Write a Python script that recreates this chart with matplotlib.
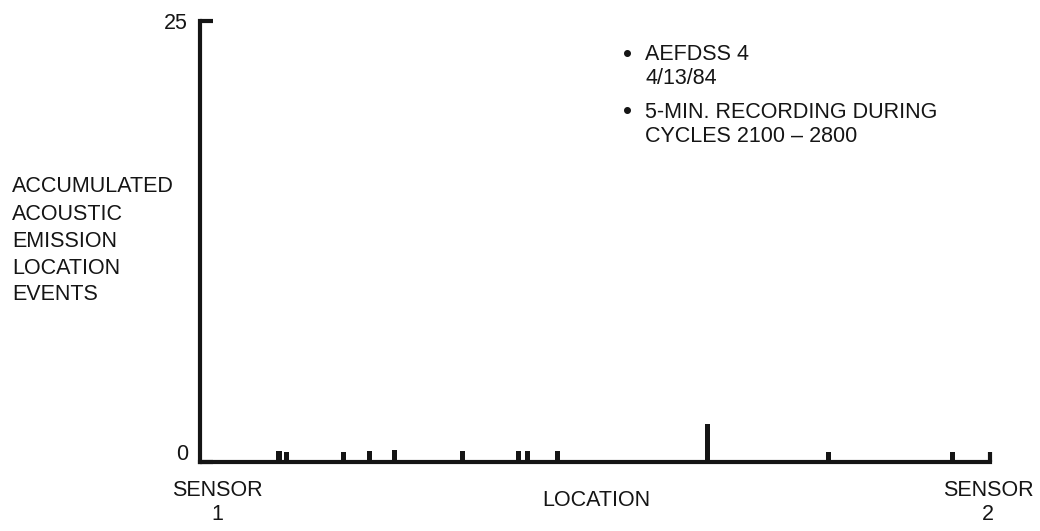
import matplotlib.pyplot as plt
from matplotlib.transforms import ScaledTranslation

# Location of each event cluster, percent of distance from sensor 1 to sensor 2
location = [10.0, 11.0, 18.2, 21.5, 24.6, 33.2, 40.3, 41.5, 45.3, 64.2, 79.6, 95.3]
# Accumulated events at each location
events = [0.6, 0.55, 0.55, 0.6, 0.7, 0.6, 0.6, 0.6, 0.6, 2.15, 0.55, 0.55]

y_ticks = [0, 25]
y_label_lines = ["ACCUMULATED", "ACOUSTIC", "EMISSION", "LOCATION", "EVENTS"]
note_lines = ["AEFDSS 4", "4/13/84", "5-MIN. RECORDING DURING", "CYCLES 2100 \u2013 2800"]
note_bullets = [True, False, True, False]

plt.rcParams['font.family'] = ['Liberation Sans', 'DejaVu Sans']
ink = '#151515'
fs = 15.5
W, H = 1040, 531

fig = plt.figure(figsize=(W / 100, H / 100), dpi=100)
ax = fig.add_axes([200 / W, 1 - 462 / H, 790 / W, 441 / H])

def px(x, y):
  # pixel position (from top-left) to figure fraction
  return x / W, 1 - y / H

# Event bars
ax.bar(location, events, width=0.65, color=ink, align='center')

ax.set_xlim(0, 100)
ax.set_ylim(0, 25)

# Axes look: only left and bottom, thick
for side in ['top', 'right']:
  ax.spines[side].set_visible(False)
for side in ['left', 'bottom']:
  ax.spines[side].set_linewidth(3)
  ax.spines[side].set_color(ink)
  ax.spines[side].set_capstyle('projecting')

ax.set_yticks(y_ticks)
ax.set_yticklabels([str(t) for t in y_ticks], fontsize=fs, color=ink)
ax.tick_params(axis='y', direction='in', length=9.5, width=3, pad=8.5, colors=ink)
# "0" sits a little above the baseline
lab0 = ax.get_yticklabels()[0]
lab0.set_transform(lab0.get_transform() + ScaledTranslation(0, 0.1, fig.dpi_scale_trans))

ax.set_xticks([100])
ax.set_xticklabels([''])
ax.tick_params(axis='x', direction='in', length=7.5, width=3, colors=ink)

# Y label as left-aligned block
for i, line in enumerate(y_label_lines):
  fig.text(*px(12, 187 + 27 * i), line, fontsize=fs, ha='left', va='center', color=ink)

# X labels
fig.text(*px(217, 490), "SENSOR", fontsize=fs, ha='center', va='center', color=ink)
fig.text(*px(217, 515), "1", fontsize=fs, ha='center', va='center', color=ink)
fig.text(*px(596, 501), "LOCATION", fontsize=fs, ha='center', va='center', color=ink)
fig.text(*px(988, 491), "SENSOR", fontsize=fs, ha='center', va='center', color=ink)
fig.text(*px(988, 515), "2", fontsize=fs, ha='center', va='center', color=ink)

# Notes
note_y = [55, 78, 112, 137]
for line, bullet, yy in zip(note_lines, note_bullets, note_y):
  if bullet:
    fig.text(*px(628, yy), "\u2022", fontsize=fs + 3, ha='center', va='center', color=ink)
  fig.text(*px(645, yy), line, fontsize=fs, ha='left', va='center', color=ink)

fig.savefig('out.png', dpi=100)
